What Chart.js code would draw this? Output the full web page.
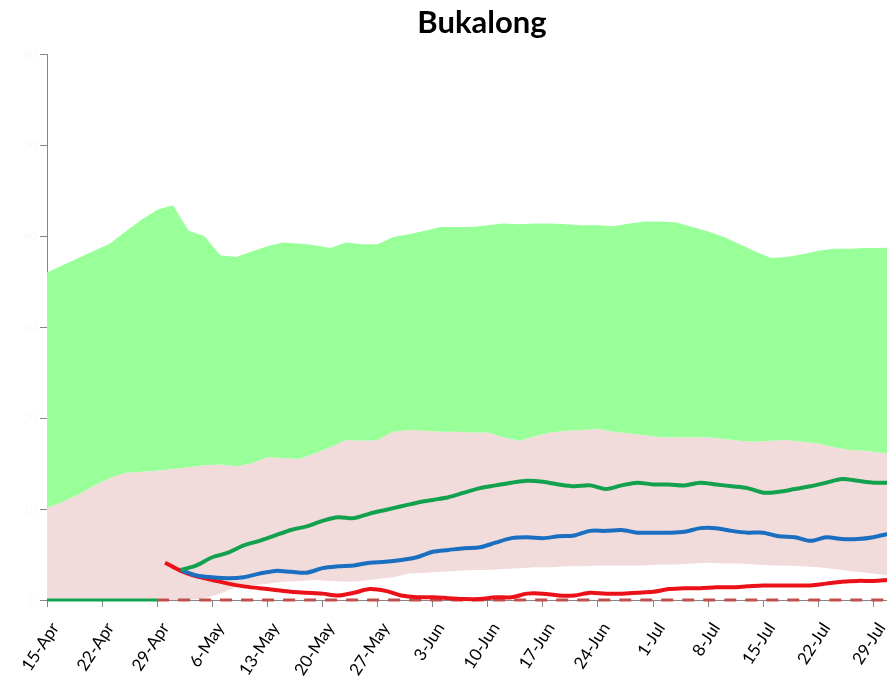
<!DOCTYPE html>
<html>
<head>
<meta charset="utf-8">
<title>Bukalong</title>
<script src="https://cdn.jsdelivr.net/npm/chart.js@4"></script>
<style>
  html, body { margin: 0; padding: 0; background: #fff; overflow: hidden; }
  .chart-wrap { position: relative; width: 964px; height: 680px; }
</style>
</head>
<body>
<div class="chart-wrap">
  <canvas id="bukalongChart"></canvas>
</div>
<script>
// x values are days counted from 15-Apr
const tickLabels = ["15-Apr", "22-Apr", "29-Apr", "6-May", "13-May", "20-May", "27-May", "3-Jun",
  "10-Jun", "17-Jun", "24-Jun", "1-Jul", "8-Jul", "15-Jul", "22-Jul", "29-Jul", "5-Aug"];

const bandDays = [0, 2, 4, 6, 8, 10, 12, 14, 16, 18, 20, 22, 24, 26, 28, 30, 32, 34, 36, 38, 40,
  42, 44, 46, 48, 50, 52, 54, 56, 58, 60, 62, 64, 66, 68, 70, 72, 74, 76, 78, 80, 82, 84, 86, 88,
  90, 92, 94, 96, 98, 100, 102, 104, 106, 108];

const greenTop = [36.0, 36.8, 37.6, 38.4, 39.2, 40.5, 41.8, 42.9, 43.4, 40.6, 40.0, 37.9, 37.7,
  38.3, 38.9, 39.3, 39.2, 39.0, 38.7, 39.3, 39.1, 39.1, 39.9, 40.2, 40.6, 41.0, 41.0, 41.0, 41.2,
  41.4, 41.3, 41.4, 41.4, 41.3, 41.2, 41.2, 41.1, 41.4, 41.6, 41.6, 41.5, 41.0, 40.5, 39.9, 39.1,
  38.3, 37.6, 37.7, 38.0, 38.4, 38.6, 38.6, 38.7, 38.7, 38.8];

const pinkTop = [10.1, 10.8, 11.6, 12.6, 13.4, 14.0, 14.1, 14.2, 14.4, 14.6, 14.8, 14.9, 14.7,
  15.0, 15.7, 15.6, 15.5, 16.1, 16.8, 17.6, 17.5, 17.6, 18.5, 18.7, 18.6, 18.5, 18.5, 18.4, 18.4,
  17.9, 17.5, 18.0, 18.4, 18.6, 18.7, 18.8, 18.5, 18.3, 18.1, 17.9, 17.9, 17.9, 17.9, 17.7, 17.5,
  17.4, 17.5, 17.6, 17.4, 17.2, 16.8, 16.5, 16.4, 16.2, 16.1];

const pinkBottom = [0, 0, 0, 0, 0, 0, 0, 0, 0, 0, 0.2, 0.7, 1.4, 1.6, 1.8, 2.0, 2.1, 2.2, 2.1,
  2.0, 2.1, 2.3, 2.5, 2.9, 3.0, 3.1, 3.2, 3.3, 3.3, 3.4, 3.5, 3.6, 3.6, 3.7, 3.7, 3.8, 3.8, 3.8,
  3.8, 3.9, 3.9, 4.0, 4.1, 4.0, 4.0, 3.9, 3.8, 3.8, 3.7, 3.6, 3.4, 3.2, 3.0, 2.8, 2.6];

const lineDays = [15, 17, 19, 21, 23, 25, 27, 29, 31, 33, 35, 37, 39, 41, 43, 45, 47, 49, 51, 53,
  55, 57, 59, 61, 63, 65, 67, 69, 71, 73, 75, 77, 79, 81, 83, 85, 87, 89, 91, 93, 95, 97, 99, 101,
  103, 105, 107];

const greenLine = [null, 3.3, 3.8, 4.7, 5.2, 6.0, 6.5, 7.1, 7.7, 8.1, 8.7, 9.1, 9.0, 9.5, 9.9,
  10.3, 10.7, 11.0, 11.3, 11.8, 12.3, 12.6, 12.9, 13.1, 13.0, 12.7, 12.5, 12.6, 12.2, 12.6, 12.9,
  12.7, 12.7, 12.6, 12.9, 12.7, 12.5, 12.3, 11.8, 11.9, 12.2, 12.5, 12.9, 13.3, 13.1, 12.9, 12.9];

const blueLine = [null, 3.3, 2.7, 2.5, 2.4, 2.5, 2.9, 3.2, 3.1, 3.0, 3.5, 3.7, 3.8, 4.1, 4.2,
  4.4, 4.7, 5.3, 5.5, 5.7, 5.8, 6.3, 6.8, 6.9, 6.8, 7.0, 7.1, 7.6, 7.6, 7.7, 7.4, 7.4, 7.4, 7.5,
  7.9, 7.9, 7.6, 7.4, 7.4, 7.0, 6.9, 6.5, 6.9, 6.7, 6.7, 6.9, 7.3];

const redLine = [4.1, 3.2, 2.6, 2.2, 1.8, 1.5, 1.3, 1.1, 0.9, 0.8, 0.7, 0.5, 0.8, 1.2, 1.0, 0.5,
  0.3, 0.3, 0.2, 0.1, 0.1, 0.3, 0.3, 0.7, 0.7, 0.5, 0.5, 0.8, 0.7, 0.7, 0.8, 0.9, 1.2, 1.3, 1.3,
  1.4, 1.4, 1.5, 1.6, 1.6, 1.6, 1.6, 1.8, 2.0, 2.1, 2.1, 2.2];

const baseGreenDays = [0, 14];
const baseGreen = [0, 0];
const baseDashDays = [14, 116];
const baseDash = [0, 0];

function toPoints(days, values) {
  return days.map((d, i) => ({ x: d, y: values[i] }));
}

function bandDataset(values, color, fill) {
  return {
    data: toPoints(bandDays, values),
    borderWidth: 0,
    pointRadius: 0,
    backgroundColor: color,
    fill: fill,
    order: 10,
  };
}

function lineDataset(days, values, color, width, dash) {
  return {
    data: toPoints(days, values),
    borderColor: color,
    borderWidth: width,
    borderDash: dash || [],
    pointRadius: 0,
    fill: false,
    tension: 0.3,
    clip: false,
    order: 1,
  };
}

const axisColor = "#868686";

new Chart(document.getElementById("bukalongChart"), {
  type: "line",
  data: {
    datasets: [
      bandDataset(greenTop, "#99ff99", "+1"),
      bandDataset(pinkTop, "#f2dcdb", "+1"),
      bandDataset(pinkBottom, "rgba(0,0,0,0)", false),
      lineDataset(lineDays, greenLine, "#12a14f", 4),
      lineDataset(lineDays, blueLine, "#1a6fc0", 4),
      lineDataset(lineDays, redLine, "#ea1218", 4),
      lineDataset(baseGreenDays, baseGreen, "#12a14f", 3),
      lineDataset(baseDashDays, baseDash, "#c0504d", 3, [12, 9]),
    ],
  },
  options: {
    responsive: true,
    maintainAspectRatio: false,
    animation: false,
    layout: { padding: 0 },
    plugins: {
      legend: { display: false },
      tooltip: { enabled: false },
      title: {
        display: true,
        text: "Bukalong",
        color: "#000",
        font: { family: "Lato", size: 31, weight: "bold" },
        padding: { top: 4, bottom: 13 },
      },
    },
    scales: {
      x: {
        type: "linear",
        min: 0,
        max: 116.5,
        afterBuildTicks: (scale) => {
          scale.ticks = tickLabels.map((_, i) => ({ value: i * 7 }));
        },
        afterFit: (scale) => {
          scale.height = 80;
        },
        border: { color: axisColor, width: 1 },
        grid: { drawOnChartArea: false, drawTicks: true, tickLength: 7, color: axisColor },
        ticks: {
          autoSkip: false,
          minRotation: 57,
          maxRotation: 57,
          padding: 12,
          labelOffset: 8,
          color: "#000",
          font: { family: "Lato", size: 17 },
          callback: (value) => tickLabels[Math.round(value / 7)],
        },
      },
      y: {
        min: 0,
        max: 60,
        afterFit: (scale) => {
          scale.width = 47;
        },
        border: { color: axisColor, width: 1 },
        grid: { drawOnChartArea: false, drawTicks: true, tickLength: 7, color: axisColor },
        ticks: {
          stepSize: 10,
          color: "#f8f8f8",
          font: { family: "Lato", size: 12 },
        },
      },
    },
  },
});
</script>
</body>
</html>
